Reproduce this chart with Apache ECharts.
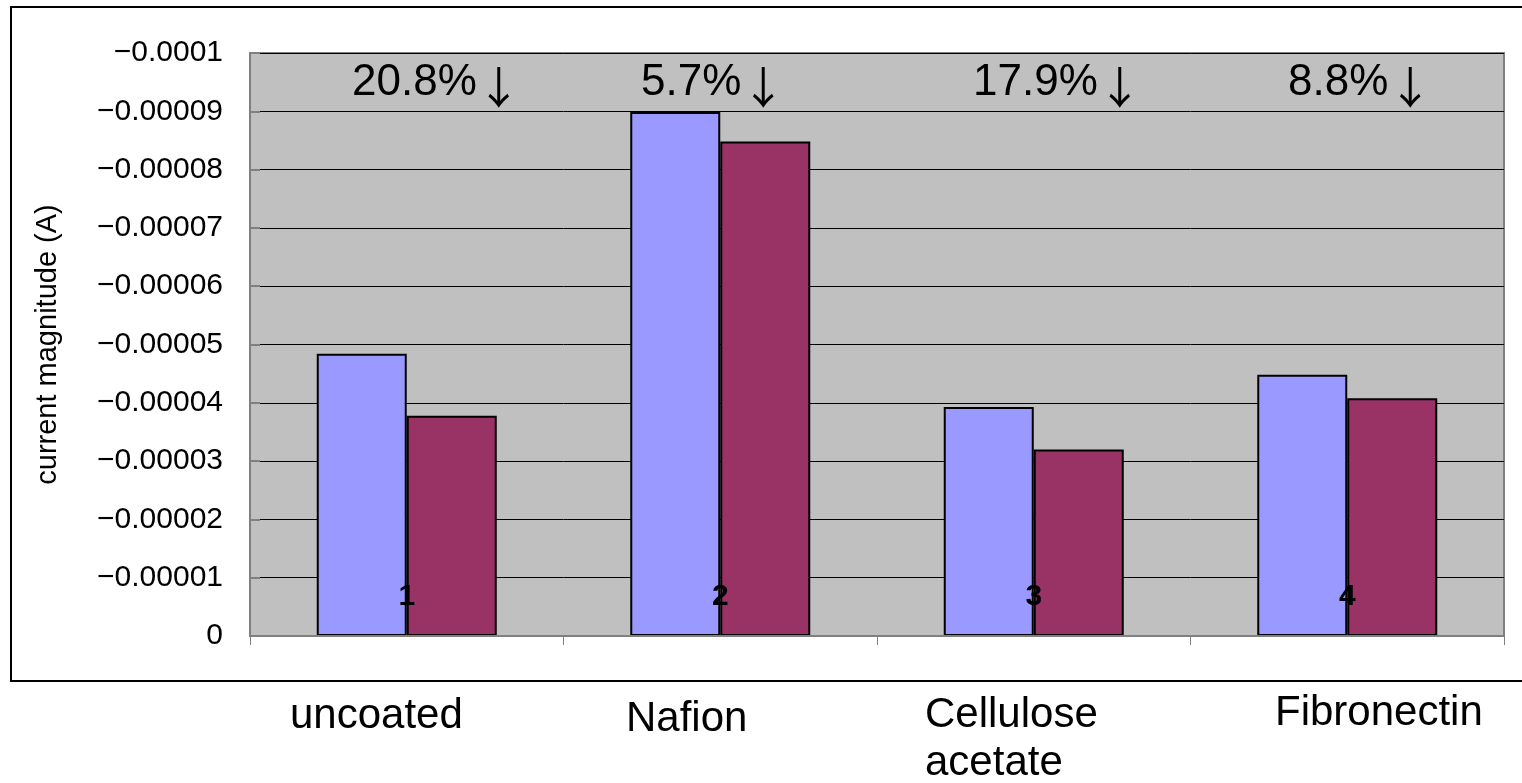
<!DOCTYPE html>
<html>
<head>
<meta charset="utf-8">
<script src="https://cdn.jsdelivr.net/npm/echarts@6/dist/echarts.min.js"></script>
<style>
html,body{margin:0;padding:0;background:#fff;}
#chart{width:1522px;height:783px;}
</style>
</head>
<body>
<div id="chart"></div>
<script>
// ---- data ----
var categories = ['1', '2', '3', '4'];
var coatingNames = ['uncoated', 'Nafion', 'Cellulose\nacetate', 'Fibronectin'];
var seriesBefore = [-0.0000484, -0.0000899, -0.0000393, -0.0000448];
var seriesAfter = [-0.0000378, -0.0000848, -0.0000320, -0.0000408];
var percentValues = ['20.8%', '5.7%', '17.9%', '8.8%'];
var yTickLabels = ['0', '\u22120.00001', '\u22120.00002', '\u22120.00003', '\u22120.00004',
  '\u22120.00005', '\u22120.00006', '\u22120.00007', '\u22120.00008', '\u22120.00009', '\u22120.0001'];

var FONT = "'Liberation Sans', Arial, Helvetica, sans-serif";

var chart = echarts.init(document.getElementById('chart'));

// annotation positions (text boxes outside / above plot)
var percentPos = [[352, 83], [641, 83], [973, 83], [1288, 83]];
var namePos = [[290, 716], [626, 719], [925, 739], [1275, 713]];

var graphics = [{
  type: 'rect',
  shape: { x: 11, y: 7, width: 1520, height: 674 },
  style: { fill: 'none', stroke: '#000', lineWidth: 2 },
  silent: true
}];
percentValues.forEach(function (t, i) {
  graphics.push({
    type: 'text', x: percentPos[i][0], y: percentPos[i][1],
    style: {
      text: '{p|' + t + '}{a|\u2193}',
      rich: {
        p: { fontFamily: FONT, fontSize: 44, fill: '#000', color: '#000' },
        a: { fontFamily: "'Noto Sans CJK JP'", fontSize: 44, fill: '#000', color: '#000', padding: [8, 0, 0, 0] }
      },
      textAlign: 'left', textVerticalAlign: 'middle'
    },
    z: 100
  });
});
coatingNames.forEach(function (t, i) {
  graphics.push({
    type: 'text', x: namePos[i][0], y: namePos[i][1],
    style: { text: t, font: '42px ' + FONT, fill: '#000', textAlign: 'left', textVerticalAlign: 'middle', lineHeight: 48 },
    z: 100
  });
});

var option = {
  animation: false,
  backgroundColor: '#fff',
  grid: {
    left: 250, right: 18, top: 53, bottom: 147,
    show: true, backgroundColor: '#C0C0C0', borderColor: '#808080', borderWidth: 2
  },
  xAxis: {
    type: 'category',
    data: categories,
    axisLine: { show: true, lineStyle: { color: '#808080', width: 2 } },
    axisTick: { show: true, length: 9, lineStyle: { color: '#808080', width: 1 } },
    axisLabel: {
      margin: -39, verticalAlign: 'middle',
      fontFamily: "'Liberation Sans Narrow', 'Liberation Sans', Arial, sans-serif",
      fontWeight: 'bold', fontSize: 30, color: '#000'
    },
    splitLine: { show: false },
    z: 10
  },
  yAxis: {
    type: 'value',
    min: -0.0001, max: 0, interval: 0.00001,
    inverse: true,
    name: 'current magnitude (A)',
    nameLocation: 'middle',
    nameGap: 188,
    nameRotate: 90,
    nameTextStyle: { fontFamily: FONT, fontSize: 29, color: '#000' },
    axisLine: { show: true, lineStyle: { color: '#808080', width: 2 } },
    axisTick: { show: true, inside: true, length: 10, lineStyle: { color: '#808080', width: 2 } },
    axisLabel: {
      margin: 27, fontFamily: FONT, fontSize: 30, color: '#000',
      formatter: function (v) {
        var idx = Math.round(-v / 0.00001);
        return yTickLabels[idx];
      }
    },
    splitLine: { show: true, lineStyle: { color: '#000', width: 1 } }
  },
  series: [{
    type: 'bar',
    data: seriesBefore,
    barWidth: 90,
    barGap: '0%',
    itemStyle: { color: '#9999FF', borderColor: '#000', borderWidth: 2 }
  }, {
    type: 'bar',
    data: seriesAfter,
    barWidth: 90,
    barGap: '0%',
    itemStyle: { color: '#993366', borderColor: '#000', borderWidth: 2 }
  }],
  graphic: graphics
};
chart.setOption(option);
</script>
</body>
</html>
